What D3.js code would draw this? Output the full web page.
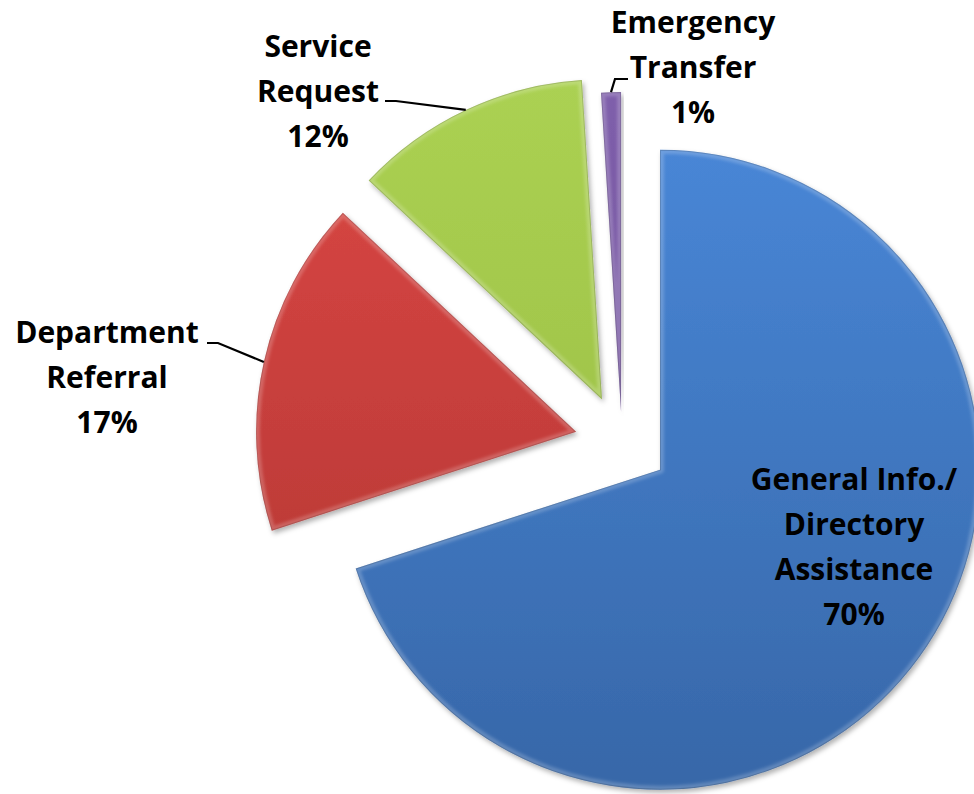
<!DOCTYPE html>
<html>
<head>
<meta charset="utf-8">
<script src="https://cdn.jsdelivr.net/npm/d3@7/dist/d3.min.js"></script>
<style>
  html, body { margin: 0; padding: 0; background: #ffffff; }
  svg { display: block; }
  text { font-family: "Open Sans", Lato, "Liberation Sans", sans-serif; font-weight: 700; }
</style>
</head>
<body>
<svg id="chart" width="974" height="794"></svg>
<script>
// ---- data ----
const categories = ["General Info./ Directory Assistance", "Department Referral", "Service Request", "Emergency Transfer"];
const values = [70, 17, 12, 1];
const labelLines = [
  ["General Info./", "Directory", "Assistance"],
  ["Department", "Referral"],
  ["Service", "Request"],
  ["Emergency", "Transfer"]
];

// ---- styles / layout ----
const colorTop = ["#4886d6", "#da4744", "#abd152", "#7f5fab"];
const colorBot = ["#3767a8", "#b03532", "#97ba43", "#644690"];
const explode = [47, 47, 47, 30];
const cx = 622, cy = 442, R = 320;
const labelPos = [
  { x: 854, y: 490 },
  { x: 107, y: 343 },
  { x: 318, y: 57 },
  { x: 693, y: 33 }
];
const leaderStart = [
  null,
  [[207, 343], [218, 343]],
  [[385, 101], [396, 101]],
  [[628, 79], [615, 79]]
];
const lineH = 45;

const svg = d3.select("#chart");
const defs = svg.append("defs");

const shadow = defs.append("filter").attr("id", "shadow")
  .attr("x", "-10%").attr("y", "-10%").attr("width", "120%").attr("height", "120%");
shadow.append("feDropShadow").attr("dx", 2).attr("dy", 3).attr("stdDeviation", 2.5)
  .attr("flood-color", "#000").attr("flood-opacity", 0.3);

const blur = defs.append("filter").attr("id", "soft");
blur.append("feGaussianBlur").attr("stdDeviation", 1.6);

const pie = d3.pie().sort(null).value(d => d).startAngle(0).endAngle(2 * Math.PI);
const arcs = pie(values);
const arc = d3.arc().innerRadius(0).outerRadius(R);

const g = svg.append("g");

arcs.forEach((a, i) => {
  const mid = (a.startAngle + a.endAngle) / 2;
  const ox = cx + explode[i] * Math.sin(mid);
  const oy = cy - explode[i] * Math.cos(mid);

  const grad = defs.append("linearGradient").attr("id", "grad" + i)
    .attr("gradientUnits", "userSpaceOnUse")
    .attr("x1", 0).attr("y1", -R).attr("x2", 0).attr("y2", R);
  grad.append("stop").attr("offset", "0%").attr("stop-color", colorTop[i]);
  grad.append("stop").attr("offset", "100%").attr("stop-color", colorBot[i]);

  defs.append("clipPath").attr("id", "clip" + i)
    .append("path").attr("d", arc(a));

  const sg = g.append("g").attr("transform", `translate(${ox},${oy})`);
  sg.append("path").attr("d", arc(a))
    .attr("fill", `url(#grad${i})`)
    .attr("filter", "url(#shadow)");
  // bevel highlight
  const bev = sg.append("g").attr("clip-path", `url(#clip${i})`);
  bev.append("path").attr("d", arc(a))
    .attr("fill", "none")
    .attr("stroke", "#ffffff").attr("stroke-opacity", 0.2)
    .attr("stroke-width", 8)
    .attr("stroke-linejoin", "round")
    .attr("filter", "url(#soft)");
  bev.append("path").attr("d", arc(a))
    .attr("fill", "none")
    .attr("stroke", "#000000").attr("stroke-opacity", 0.15)
    .attr("stroke-width", 2);

  // leader line
  if (leaderStart[i]) {
    const ex = ox + R * Math.sin(mid);
    const ey = oy - R * Math.cos(mid);
    const pts = leaderStart[i].concat([[ex, ey]]);
    svg.append("path").attr("d", d3.line()(pts))
      .attr("fill", "none").attr("stroke", "#000").attr("stroke-width", 2.2);
  }
});

// labels
arcs.forEach((a, i) => {
  const lines = labelLines[i].concat([values[i] + "%"]);
  const t = svg.append("text")
    .attr("text-anchor", "middle")
    .attr("font-size", 30)
    .attr("fill", "#000");
  lines.forEach((s, k) => {
    t.append("tspan").attr("x", labelPos[i].x).attr("y", labelPos[i].y + k * lineH).text(s);
  });
});
</script>
</body>
</html>
